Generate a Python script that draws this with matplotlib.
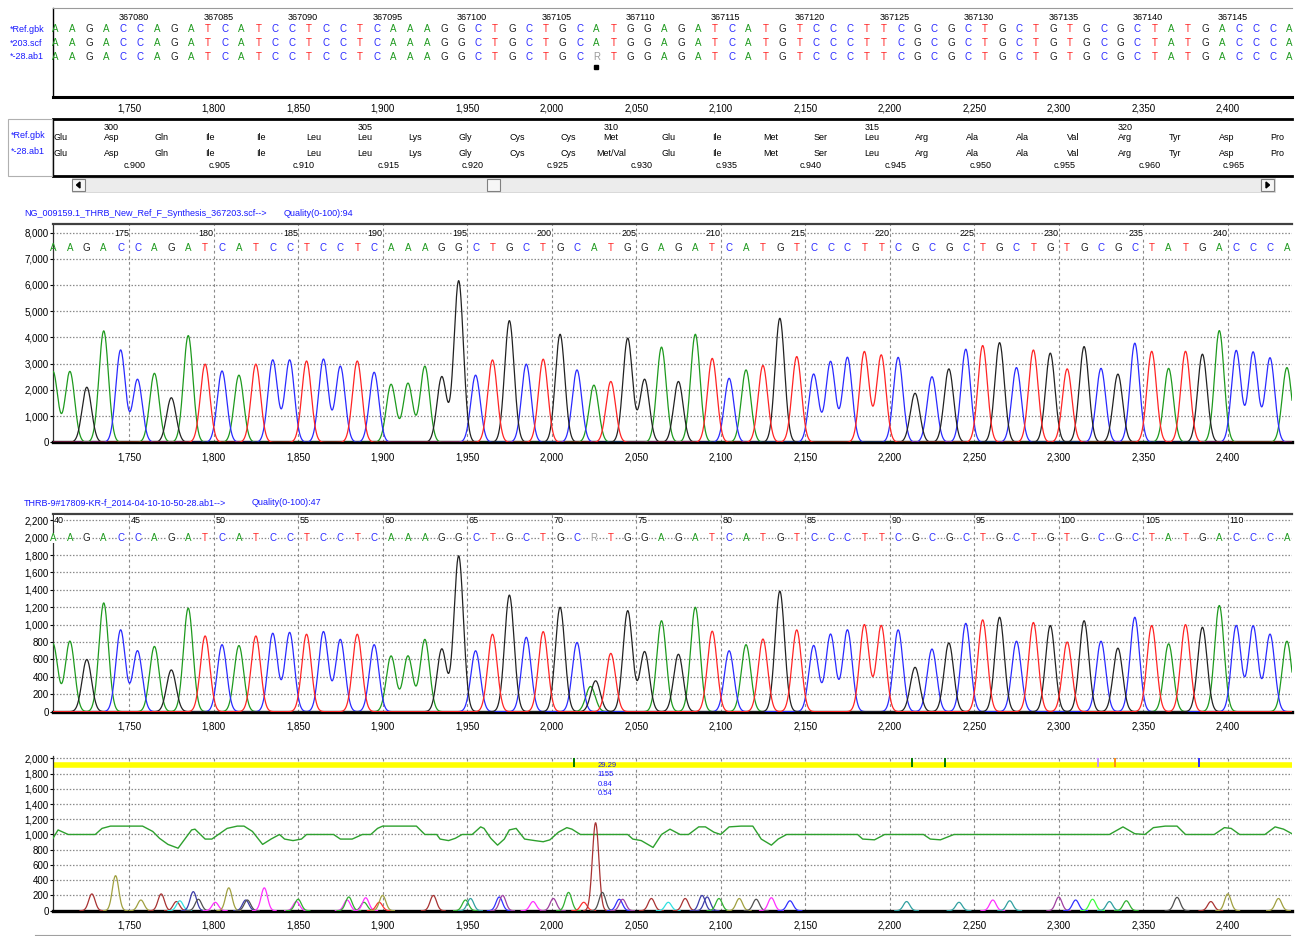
import matplotlib
matplotlib.use("Agg")
import matplotlib.pyplot as plt
from matplotlib.patches import Rectangle, Polygon
from matplotlib.lines import Line2D
from matplotlib.ticker import FuncFormatter
import numpy as np

plt.rcParams['font.family'] = ['Liberation Sans Narrow', 'Liberation Sans', 'DejaVu Sans']

# ---------------- data ----------------
ref_seq = "AAGACCAGATCATCCTCCTCAAAGGCTGCTGCATGGAGATCATGTCCCTTCGCGCTGCTGTGCGCTATGACCCA"
sample_seq = "AAGACCAGATCATCCTCCTCAAAGGCTGCTGCRTGGAGATCATGTCCCTTCGCGCTGCTGTGCGCTATGACCCA"
row_names = ["*Ref.gbk", "*203.scf", "*-28.ab1"]
aa_row_names = ["*Ref.gbk", "*-28.ab1"]

first_scan = 1705      # scan position of the first visible base
base_step = 10         # scans per base
genomic_first = 367076  # genomic position of the first visible base
cdna_first = 896        # c. position of the first visible base
aa_first = 299          # residue number of the first (partial) codon

aa_ref = ["Glu", "Asp", "Gln", "Ile", "Ile", "Leu", "Leu", "Lys", "Gly", "Cys", "Cys", "Met", "Glu",
          "Ile", "Met", "Ser", "Leu", "Arg", "Ala", "Ala", "Val", "Arg", "Tyr", "Asp", "Pro"]
aa_sample = ["Glu", "Asp", "Gln", "Ile", "Ile", "Leu", "Leu", "Lys", "Gly", "Cys", "Cys", "Met/Val", "Glu",
             "Ile", "Met", "Ser", "Leu", "Arg", "Ala", "Ala", "Val", "Arg", "Tyr", "Asp", "Pro"]

scan_ticks = [1750, 1800, 1850, 1900, 1950, 2000, 2050, 2100, 2150, 2200, 2250, 2300, 2350, 2400]
ref_base_numbers = [175, 180, 185, 190, 195, 200, 205, 210, 215, 220, 225, 230, 235, 240]
sample_number_scans = [1700] + scan_ticks
sample_base_numbers = [40, 45, 50, 55, 60, 65, 70, 75, 80, 85, 90, 95, 100, 105, 110]

ref_title = "NG_009159.1_THRB_New_Ref_F_Synthesis_367203.scf-->"
ref_quality = "Quality(0-100):94"
sample_title = "THRB-9#17809-KR-f_2014-04-10-10-50-28.ab1-->"
sample_quality = "Quality(0-100):47"

# peak height of each called base
ref_heights = [2700, 2700, 2100, 4250, 3520, 2400, 2630, 1700, 4070, 2980,
               2720, 2560, 2980, 3140, 3140, 3100, 3170, 2900, 3100, 2670,
               2210, 2250, 2900, 2500, 6160, 2560, 3140, 4640, 2980, 3170,
               4120, 2760, 2180, 2320, 3970, 2400, 3630, 2320, 4120, 3200,
               2440, 2760, 2930, 4730, 3270, 2600, 3080, 3240, 3460, 3330,
               3240, 1870, 2500, 2800, 3550, 3690, 3800, 2850, 3520, 3400,
               2800, 3650, 2820, 2600, 3780, 3470, 2820, 3470, 3360, 4260,
               3500, 3440, 3220, 2850]
sample_heights = [780, 810, 600, 1250, 940, 700, 750, 480, 1190, 870,
                  770, 760, 870, 900, 910, 890, 920, 830, 890, 770,
                  640, 640, 830, 720, 1790, 700, 890, 1340, 855, 920,
                  1200, 795, 0, 670, 1160, 690, 1045, 660, 1200, 925,
                  700, 770, 835, 1385, 940, 760, 890, 940, 1000, 990,
                  940, 510, 720, 790, 1015, 1055, 1085, 810, 1025, 990,
                  800, 1045, 810, 730, 1085, 990, 780, 1000, 970, 1220,
                  990, 985, 890, 810]
# the heterozygous R call: two small peaks (channel, scan, height)
mixed_peaks = [("A", 2023, 290), ("G", 2026, 355)]

# bottom panel: quality-like green curve
qual_x = [1705, 1708, 1714, 1730, 1734, 1739, 1758, 1764, 1768, 1773, 1779, 1787, 1789, 1795, 1799,
          1808, 1814, 1818, 1823, 1829, 1834, 1839, 1842, 1847, 1852, 1855, 1871, 1875, 1882, 1888,
          1893, 1897, 1900, 1920, 1925, 1932, 1934, 1939, 1943, 1947, 1953, 1958, 1960, 1964, 1968,
          1972, 1975, 1979, 1984, 1990, 1995, 1999, 2004, 2009, 2012, 2017, 2045, 2048, 2053, 2060,
          2065, 2070, 2076, 2081, 2087, 2091, 2096, 2100, 2105, 2112, 2119, 2124, 2130, 2134, 2139,
          2181, 2184, 2191, 2197, 2220, 2224, 2230, 2238, 2330, 2338, 2345, 2351, 2356, 2363, 2370,
          2375, 2392, 2398, 2402, 2407, 2422, 2428, 2433, 2438]
qual_y = [950, 1060, 1000, 1000, 1080, 1110, 1110, 1040, 950, 870, 820, 1060, 1070, 940, 940,
          1080, 1110, 1110, 1040, 870, 940, 1000, 940, 920, 940, 1000, 1000, 940, 940, 1000,
          1000, 1080, 1110, 1110, 1000, 1000, 940, 920, 950, 1000, 1000, 1100, 1080, 950, 860,
          940, 1060, 1080, 940, 920, 905, 930, 1030, 1090, 1070, 1000, 1000, 940, 920, 830,
          1000, 1070, 1000, 1000, 1100, 1100, 1030, 1000, 1100, 1110, 1110, 940, 860, 940, 1000,
          1000, 940, 930, 1000, 1000, 940, 930, 1000, 1000, 1100, 1010, 1000, 1090, 1110, 1110,
          1000, 1000, 1090, 1080, 1000, 1000, 1100, 1070, 1010]

# bottom panel: small difference peaks
diff_pos = [1728, 1742, 1757, 1769, 1778, 1780, 1788, 1791, 1801, 1809,
            1819, 1820, 1830, 1849, 1850, 1879, 1880, 1889, 1890, 1898,
            1900, 1930, 1949, 1952, 1969, 1971, 1989, 2001, 2010, 2019,
            2026, 2030, 2040, 2042, 2059, 2069, 2079, 2089, 2092, 2099,
            2111, 2121, 2130, 2141, 2210, 2241, 2261, 2271, 2300, 2310,
            2320, 2330, 2340, 2370, 2390, 2400, 2430]
diff_height = [220, 460, 140, 220, 120, 130, 250, 150, 110, 300,
               140, 140, 300, 120, 150, 140, 180, 110, 170, 110,
               200, 200, 140, 160, 180, 200, 120, 160, 240, 110,
               1155, 240, 150, 150, 160, 110, 160, 200, 180, 160,
               160, 150, 170, 130, 120, 110, 140, 130, 180, 140,
               150, 120, 130, 175, 120, 220, 160]
diff_kind = ['brown', 'olive', 'olive', 'brown', 'brown', 'cyan', 'navy', 'gray', 'magenta', 'olive',
             'navy', 'gray', 'magenta', 'magenta', 'green', 'magenta', 'green', 'green', 'magenta', 'red',
             'olive', 'brown', 'green', 'teal', 'blue', 'purple', 'magenta', 'purple', 'green', 'red',
             'brown', 'gray', 'blue', 'purple', 'brown', 'cyan', 'brown', 'navy', 'navy', 'green',
             'olive', 'gray', 'magenta', 'blue', 'teal', 'teal', 'magenta', 'teal', 'purple', 'blue',
             'lime', 'teal', 'green', 'gray', 'brown', 'olive', 'olive']
mark_pos = [2013, 2213, 2233, 2323, 2333, 2383]
mark_kind = ['dkgreen', 'dkgreen', 'dkgreen', 'lavender', 'orange', 'blue']
stats_text = ["29.29", "1155", "0.84", "0.54"]
stats_y = [1903, 1790, 1659, 1541]
stats_scan = 2027

# ---------------- styles ----------------
base_colors = {"A": "#1e9a1e", "C": "#2a2aff", "G": "#222222", "T": "#ff2424", "R": "#9a9a9a"}
kind_colors = {'brown': '#a83232', 'olive': '#a0a040', 'cyan': '#30e0e0', 'navy': '#3c3ca8',
               'gray': '#505050', 'magenta': '#ff30ff', 'green': '#30b030', 'teal': '#30a0a0',
               'purple': '#a040a0', 'blue': '#3030ff', 'red': '#ff3030', 'lime': '#40ff40',
               'dkgreen': '#007a00', 'lavender': '#c890ff', 'orange': '#ff8c1a'}
label_blue = "#1a1aff"
grid_col = "#8a8a8a"
W, H = 1295, 936
xlim = (1705, 2438)
base_pos = first_scan + base_step * np.arange(len(ref_seq))


def frac(x0, y0, x1, y1):
    return [x0 / W, 1 - y1 / H, (x1 - x0) / W, (y1 - y0) / H]


def fig_rect(fig, x0, y0, x1, y1, fc, ec, lw=0.8):
    fig.add_artist(Rectangle((x0 / W, 1 - y1 / H), (x1 - x0) / W, (y1 - y0) / H,
                             transform=fig.transFigure, facecolor=fc, edgecolor=ec, lw=lw))


def thousands(v, p):
    return f"{int(round(v)):,}"


def style_scan_axes(ax, yticks, ylim, pad):
    ax.set_xlim(*xlim)
    ax.set_ylim(*ylim)
    ax.set_xticks(scan_ticks)
    ax.xaxis.set_major_formatter(FuncFormatter(thousands))
    ax.set_yticks(yticks)
    ax.yaxis.set_major_formatter(FuncFormatter(thousands))
    ax.tick_params(axis='x', length=0, pad=pad, labelsize=7)
    ax.tick_params(axis='y', length=2, pad=1, labelsize=7, width=0.8)
    ax.yaxis.grid(True, ls=(0, (1.2, 1.4)), color=grid_col, lw=0.9)
    ax.xaxis.grid(True, ls=(0, (2.5, 2.5)), color=grid_col, lw=0.8)
    ax.set_axisbelow(True)
    ax.spines['right'].set_visible(False)
    ax.spines['left'].set_color('#303030')
    ax.spines['left'].set_linewidth(0.9)
    ax.spines['bottom'].set_linewidth(2.4)
    ax.spines['bottom'].set_color('black')
    ax.spines['top'].set_color('#404040')
    ax.spines['top'].set_linewidth(1.6)


def draw_trace(ax, calls, heights, extra, sigma=2.8):
    xs = np.linspace(xlim[0], xlim[1], 5000)
    for base in "ACGT":
        y = np.zeros_like(xs)
        for pos, call, h in zip(base_pos, calls, heights):
            if call == base:
                y += h * np.exp(-0.5 * ((xs - pos) / sigma) ** 2)
        for call, pos, h in extra:
            if call == base:
                y += h * np.exp(-0.5 * ((xs - pos) / sigma) ** 2)
        ax.plot(xs, y, color=base_colors[base], lw=0.9, zorder=3)


fig = plt.figure(figsize=(W / 100, H / 100), dpi=100)

# ---------------- top alignment panel ----------------
ax_top = fig.add_axes(frac(53, 8, 1292, 97))
ax_top.set_xlim(*xlim)
ax_top.set_ylim(89, 0)
ax_top.set_yticks([])
ax_top.set_xticks(scan_ticks)
ax_top.xaxis.set_major_formatter(FuncFormatter(thousands))
ax_top.tick_params(axis='x', length=0, pad=5, labelsize=7)
ax_top.spines['right'].set_visible(False)
ax_top.spines['top'].set_color('#9a9a9a')
ax_top.spines['top'].set_linewidth(0.8)
ax_top.spines['left'].set_linewidth(1.0)
ax_top.spines['bottom'].set_linewidth(2.2)

for i in range(len(ref_seq)):
    g = genomic_first + i
    if g % 5 == 0:
        ax_top.text(base_pos[i] - 1, 9, str(g), fontsize=6.5, ha='left', va='center')
for row, (name, seq) in enumerate(zip(row_names, [ref_seq, ref_seq, sample_seq])):
    y = 21.5 + 13.5 * row
    fig.text(10 / W, 1 - (y + 8) / H, name, fontsize=6.5, color=label_blue, ha='left', va='center')
    for x, b in zip(base_pos, seq):
        ax_top.text(x + 1.5, y, b, fontsize=7, color=base_colors[b], ha='center', va='center')
r_idx = sample_seq.index("R")
ax_top.plot(base_pos[r_idx] + 1.5, 59, 's', ms=2.2, color='black')

# ---------------- amino acid panel ----------------
fig_rect(fig, 8, 119, 52, 176, 'white', '#b0b0b0', 0.8)
for k, name in enumerate(aa_row_names):
    fig.text(11 / W, 1 - (136 + 16 * k) / H, name, fontsize=6.5, color=label_blue, ha='left', va='center')

ax_aa = fig.add_axes(frac(53, 119, 1292, 176))
ax_aa.set_xlim(*xlim)
ax_aa.set_ylim(57, 0)
ax_aa.set_xticks([])
ax_aa.set_yticks([])
ax_aa.spines['right'].set_visible(False)
ax_aa.spines['top'].set_linewidth(2.0)
ax_aa.spines['bottom'].set_linewidth(2.0)
ax_aa.spines['left'].set_linewidth(1.0)
for k, (a1, a2) in enumerate(zip(aa_ref, aa_sample)):
    xc = base_pos[3 * k]
    ha = 'center' if a1 != a2 else 'left'
    num = aa_first + k
    if num % 5 == 0:
        ax_aa.text(xc, 9, str(num), fontsize=6.5, ha=ha, va='center', clip_on=True)
    ax_aa.text(xc, 19, a1, fontsize=6.5, ha=ha, va='center', clip_on=True)
    ax_aa.text(xc, 34, a2, fontsize=6.5, ha=ha, va='center', clip_on=True)
for i in range(len(ref_seq)):
    c = cdna_first + i
    if c % 5 == 0:
        ax_aa.text(base_pos[i] + 2, 47, f"c.{c}", fontsize=6.5, ha='left', va='center')

# scrollbar
fig_rect(fig, 72, 178, 1275, 192, '#ececec', '#d4d4d4', 0.6)
for x0 in (72, 1261):
    fig_rect(fig, x0, 179, x0 + 13, 191, '#f6f6f6', '#808080', 0.8)
fig_rect(fig, 487, 179, 500, 191, '#f6f6f6', '#808080', 0.8)
for cx, d in ((78.5, -1), (1267.5, 1)):
    pts = [((cx + 2 * d) / W, 1 - 185 / H), ((cx - 1.5 * d) / W, 1 - 182 / H), ((cx - 1.5 * d) / W, 1 - 188 / H)]
    fig.add_artist(Polygon(pts, closed=True, transform=fig.transFigure, color='black'))

# ---------------- reference chromatogram ----------------
fig.text(24 / W, 1 - 213.5 / H, ref_title, fontsize=6.5, color=label_blue, va='center')
fig.text(284 / W, 1 - 213.5 / H, ref_quality, fontsize=6.5, color=label_blue, va='center')
ax1 = fig.add_axes(frac(53, 224.3, 1292, 442.3))
style_scan_axes(ax1, list(range(0, 8001, 1000)), (0, 8313), 7)
draw_trace(ax1, ref_seq, ref_heights, [])
for x, n in zip(scan_ticks, ref_base_numbers):
    ax1.text(x, 7980, str(n), fontsize=6.5, ha='right', va='center', zorder=4,
             bbox=dict(fc='white', ec='none', pad=0.2))
for x, b in zip(base_pos, ref_seq):
    ax1.text(x, 7420, b, fontsize=7, color=base_colors[b], ha='center', va='center', zorder=4)

# ---------------- sample chromatogram ----------------
fig.text(24 / W, 1 - 502.7 / H, sample_title, fontsize=6.5, color=label_blue, va='center')
fig.text(252 / W, 1 - 502.7 / H, sample_quality, fontsize=6.5, color=label_blue, va='center')
ax2 = fig.add_axes(frac(53, 514.3, 1292, 711.7))
style_scan_axes(ax2, list(range(0, 2201, 200)), (0, 2268), 7)
draw_trace(ax2, sample_seq, sample_heights, mixed_peaks)
for x, n in zip(sample_number_scans, sample_base_numbers):
    ax2.text(max(x + 1, xlim[0] + 0.5), 2200, str(n), fontsize=6.5, ha='left', va='center', zorder=4,
             bbox=dict(fc='white', ec='none', pad=0.2))
for x, b in zip(base_pos, sample_seq):
    ax2.text(x, 2000, b, fontsize=7, color=base_colors[b], ha='center', va='center', zorder=4,
             bbox=dict(fc='white', ec='none', pad=0.1))

# ---------------- bottom difference panel ----------------
ax3 = fig.add_axes(frac(53, 756, 1292, 910.7))
style_scan_axes(ax3, list(range(0, 2001, 200)), (0, 2030), 7)
ax3.spines['top'].set_visible(False)
ax3.axhline(1908, color='#ffff00', lw=4.0, zorder=2)
ax3.vlines(mark_pos, 1880, 2000, colors=[kind_colors[k] for k in mark_kind], lw=1.4, zorder=3)
ax3.plot(qual_x, qual_y, color='#2ea02e', lw=1.0, zorder=3)
for pos, h, k in zip(diff_pos, diff_height, diff_kind):
    xs = np.linspace(pos - 7, pos + 7, 60)
    ax3.plot(xs, h * np.exp(-0.5 * ((xs - pos) / 1.9) ** 2), color=kind_colors[k], lw=0.9, zorder=3)
for t, y in zip(stats_text, stats_y):
    ax3.text(stats_scan, y, t, fontsize=5.5, color=label_blue, ha='left', va='center', zorder=4)

fig.add_artist(Line2D([35 / W, 1290 / W], [1 - 935 / H] * 2, transform=fig.transFigure,
                      color='#a0a0a0', lw=0.8))

fig.savefig("out.png", dpi=100)
